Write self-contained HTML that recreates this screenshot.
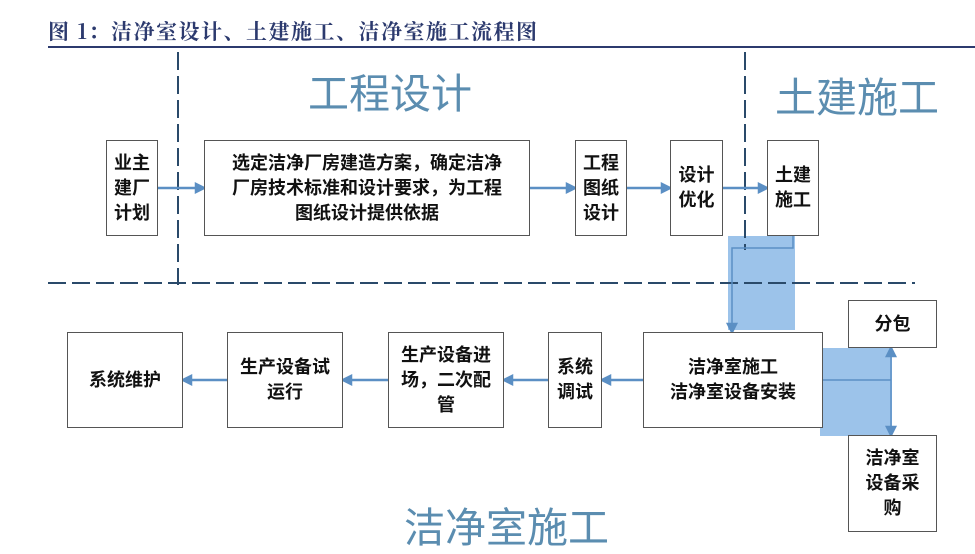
<!DOCTYPE html>
<html><head><meta charset="utf-8"><style>
body{margin:0;width:975px;height:540px;background:#fff;position:relative;overflow:hidden;font-family:"Liberation Sans","Noto Sans CJK SC",sans-serif}
.b{position:absolute;border:1.5px solid #555;background:#fff;box-sizing:border-box;display:flex;align-items:center;justify-content:center;text-align:center;font-weight:bold;font-size:18px;line-height:25px;color:#111}
.t{position:absolute;color:#5b8db0;font-size:41px;white-space:nowrap}
.bl{position:absolute;background:#9cc3ea}
</style></head><body>
<div style="position:absolute;left:48px;top:16px;font-family:'Noto Serif CJK SC',serif;font-weight:bold;font-size:21px;color:#2c3a6e;letter-spacing:1.5px;white-space:nowrap">图 1：洁净室设计、土建施工、洁净室施工流程图</div>
<div style="position:absolute;left:48px;top:46px;width:927px;height:2px;background:#2c3a6e"></div>
<div class="t" style="left:308px;top:60px">工程设计</div>
<div class="t" style="left:775px;top:64px">土建施工</div>
<div class="t" style="left:404px;top:494px">洁净室施工</div>
<div class="bl" style="left:728px;top:236px;width:67px;height:94px"></div>
<div class="bl" style="left:820px;top:348px;width:72px;height:88px"></div>
<svg width="975" height="540" style="position:absolute;left:0;top:0">
<g stroke="#2a4a6a" stroke-width="2" stroke-dasharray="18,6">
<line x1="178" y1="52" x2="178" y2="285"/>
<line x1="745" y1="52" x2="745" y2="250"/>
<line x1="48" y1="283" x2="915" y2="283"/>
</g>
<g stroke="#5b8fc4" stroke-width="2.5" fill="#5b8fc4">
<line x1="158" y1="188" x2="198" y2="188"/><polygon points="204,188 196,184 196,192"/>
<line x1="530" y1="188" x2="569" y2="188"/><polygon points="575,188 567,184 567,192"/>
<line x1="627" y1="188" x2="664" y2="188"/><polygon points="670,188 662,184 662,192"/>
<line x1="723" y1="188" x2="761" y2="188"/><polygon points="767,188 759,184 759,192"/>
<polyline fill="none" stroke-width="1.5" points="793,236 793,248 732,248 732,326"/><polygon points="732,332 728,324 736,324"/>
<line x1="643" y1="380" x2="608" y2="380"/><polygon points="602,380 610,376 610,384"/>
<line x1="548" y1="380" x2="510" y2="380"/><polygon points="504,380 512,376 512,384"/>
<line x1="388" y1="380" x2="349" y2="380"/><polygon points="343,380 351,376 351,384"/>
<line x1="227" y1="380" x2="189" y2="380"/><polygon points="183,380 191,376 191,384"/>
<line x1="823" y1="380" x2="891" y2="380" stroke-width="1.5"/>
<line x1="891" y1="354" x2="891" y2="429" stroke-width="1.5"/>
<polygon points="891,348 887,356 895,356"/><polygon points="891,435 887,427 895,427"/>
</g>
</svg>
<div class="b" style="left:106px;top:140px;width:52px;height:96px">业主<br>建厂<br>计划</div>
<div class="b" style="left:204px;top:140px;width:326px;height:96px">选定洁净厂房建造方案，确定洁净<br>厂房技术标准和设计要求，为工程<br>图纸设计提供依据</div>
<div class="b" style="left:575px;top:140px;width:52px;height:96px">工程<br>图纸<br>设计</div>
<div class="b" style="left:670px;top:140px;width:53px;height:96px">设计<br>优化</div>
<div class="b" style="left:767px;top:140px;width:52px;height:96px">土建<br>施工</div>
<div class="b" style="left:67px;top:332px;width:116px;height:96px">系统维护</div>
<div class="b" style="left:227px;top:332px;width:116px;height:96px">生产设备试<br>运行</div>
<div class="b" style="left:388px;top:332px;width:116px;height:96px">生产设备进<br>场，二次配<br>管</div>
<div class="b" style="left:548px;top:332px;width:54px;height:96px">系统<br>调试</div>
<div class="b" style="left:643px;top:332px;width:180px;height:96px">洁净室施工<br>洁净室设备安装</div>
<div class="b" style="left:848px;top:300px;width:89px;height:48px">分包</div>
<div class="b" style="left:848px;top:435px;width:89px;height:97px">洁净室<br>设备采<br>购</div>
</body></html>
